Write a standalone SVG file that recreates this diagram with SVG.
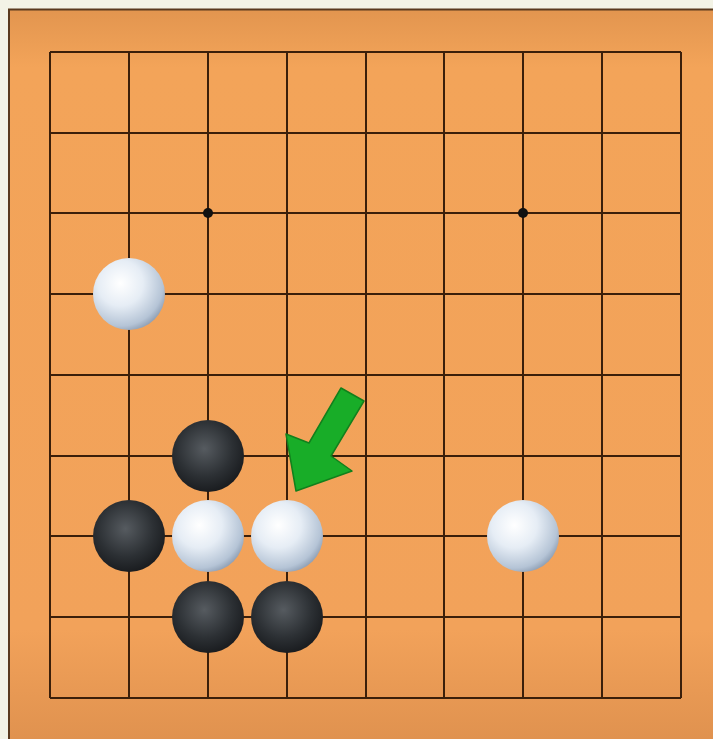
<svg xmlns="http://www.w3.org/2000/svg" width="713" height="739" viewBox="0 0 713 739">
<defs>
<linearGradient id="board" x1="0" y1="0" x2="0" y2="1">
<stop offset="0" stop-color="#e2954f"/>
<stop offset="0.08" stop-color="#f3a459"/>
<stop offset="0.85" stop-color="#f2a25a"/>
<stop offset="1" stop-color="#e0924f"/>
</linearGradient>
<radialGradient id="white" cx="0.38" cy="0.35" r="0.7">
<stop offset="0" stop-color="#ffffff"/>
<stop offset="0.45" stop-color="#e6edf5"/>
<stop offset="0.85" stop-color="#b5c4d6"/>
<stop offset="1" stop-color="#8c9db3"/>
</radialGradient>
<radialGradient id="black" cx="0.45" cy="0.4" r="0.65">
<stop offset="0" stop-color="#565b60"/>
<stop offset="0.6" stop-color="#2c3034"/>
<stop offset="1" stop-color="#16181b"/>
</radialGradient>
<style>
.g{stroke:#3b1f0a;stroke-width:2;fill:none}
.w{fill:url(#white)}
.b{fill:url(#black)}
</style>
</defs>
<rect width="713" height="739" fill="#f3f3e6"/>
<rect x="9" y="9" width="704" height="730" fill="url(#board)"/>
<path d="M9 739V9.5H713" stroke="#5a3a1e" stroke-width="2" fill="none"/>
<g id="grid" class="g">
<path d="M50 52V698M129 52V698M208 52V698M287 52V698M366 52V698M444 52V698M523 52V698M602 52V698M681 52V698"/>
<path d="M50 52H681M50 133H681M50 213H681M50 294H681M50 375H681M50 456H681M50 536H681M50 617H681M50 698H681"/>
</g>
<g id="hoshi" fill="#111">
<circle cx="208" cy="213" r="5"/>
<circle cx="523" cy="213" r="5"/>
</g>
<g id="stones">
<circle class="w" cx="129" cy="294" r="36"/>
<circle class="b" cx="208" cy="456" r="36"/>
<circle class="b" cx="129" cy="536" r="36"/>
<circle class="w" cx="208" cy="536" r="36"/>
<circle class="w" cx="287" cy="536" r="36"/>
<circle class="w" cx="523" cy="536" r="36"/>
<circle class="b" cx="208" cy="617" r="36"/>
<circle class="b" cx="287" cy="617" r="36"/>
</g>
<g id="arrow">
<polygon points="341,388 364,401 331,456 352,471 296,491 286,434 309,443" fill="#18ad28" stroke="#12801c" stroke-width="1.5" stroke-linejoin="round"/>
</g>
</svg>
